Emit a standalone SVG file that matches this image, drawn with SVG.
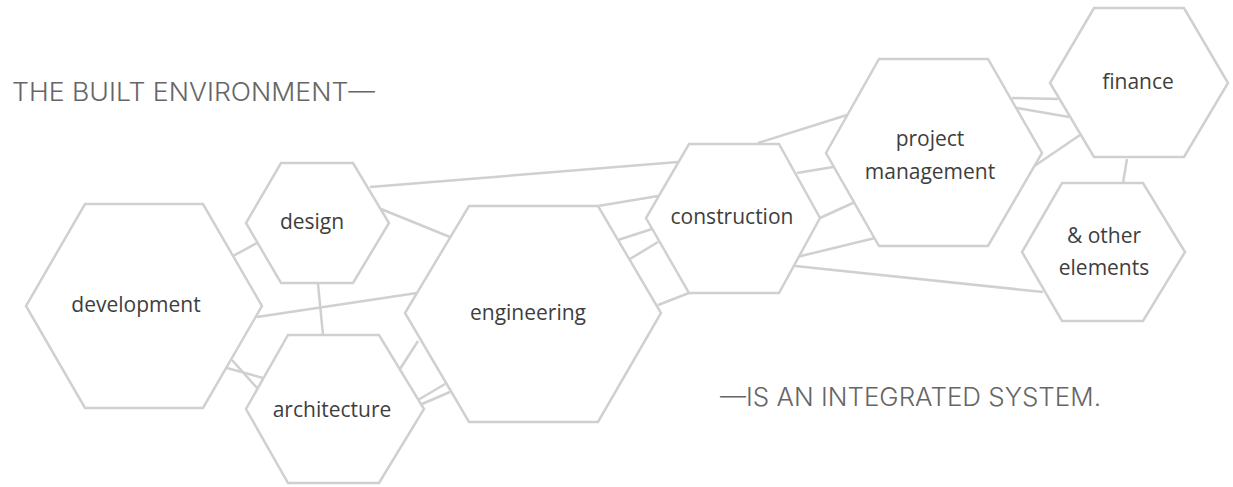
<svg xmlns="http://www.w3.org/2000/svg" width="1233" height="487" viewBox="0 0 1233 487">
<style>
.hex{fill:#fff;stroke:#d0d0d0;stroke-width:2.5;stroke-linejoin:miter}
.con line{stroke:#d0d0d0;stroke-width:2.5;stroke-linecap:butt}
.lbl{font-family:"Open Sans","Noto Sans",sans-serif;font-size:21px;fill:#3e3e3e;text-anchor:middle}
.title{font-family:"Inter","Open Sans",sans-serif;font-size:25px;fill:#666;font-weight:300}
</style>
<rect width="1233" height="487" fill="#fff"/>
<text class="title" x="12" y="101" textLength="363" lengthAdjust="spacingAndGlyphs">THE BUILT ENVIRONMENT—</text>
<text class="title" x="720" y="406" textLength="381" lengthAdjust="spacingAndGlyphs">—IS AN INTEGRATED SYSTEM.</text>
<g id="connectors" class="con">
<line x1="370" y1="187" x2="678" y2="162"/>
<line x1="381" y1="209" x2="450" y2="237"/>
<line x1="233" y1="256" x2="257" y2="243"/>
<line x1="318" y1="284" x2="323" y2="335"/>
<line x1="257" y1="317" x2="417" y2="293"/>
<line x1="232" y1="360" x2="258" y2="389"/>
<line x1="227" y1="368" x2="263" y2="378"/>
<line x1="400" y1="369" x2="418" y2="341"/>
<line x1="418" y1="400" x2="445" y2="384"/>
<line x1="422" y1="404" x2="450" y2="392"/>
<line x1="598" y1="206" x2="658" y2="196"/>
<line x1="618" y1="240" x2="652" y2="229"/>
<line x1="630" y1="259" x2="658" y2="242"/>
<line x1="658" y1="305" x2="689" y2="293"/>
<line x1="758" y1="143" x2="847" y2="115"/>
<line x1="797" y1="173" x2="833" y2="167"/>
<line x1="820" y1="218" x2="855" y2="202"/>
<line x1="797" y1="257" x2="875" y2="238"/>
<line x1="795" y1="266" x2="1043" y2="292"/>
<line x1="1012" y1="98" x2="1058" y2="99"/>
<line x1="1017" y1="108" x2="1069" y2="117"/>
<line x1="1033" y1="167" x2="1080" y2="135"/>
<line x1="1127" y1="159" x2="1123" y2="183"/>
</g>
<g id="development"><polygon class="hex" points="85,204 203,204 262,306 203,408 85,408 26,306"/><text class="lbl" x="136" y="312">development</text></g>
<g id="design"><polygon class="hex" points="281,163 353,163 389,223 353,283 281,283 246,223"/><text class="lbl" x="312" y="229">design</text></g>
<g id="architecture"><polygon class="hex" points="288,335 379,335 424,409 379,483 288,483 246,409"/><text class="lbl" x="332" y="417">architecture</text></g>
<g id="engineering"><polygon class="hex" points="469,206 598,206 661,313 598,422 469,422 405,313"/><text class="lbl" x="528" y="320">engineering</text></g>
<g id="construction"><polygon class="hex" points="689,144 779,144 820,218 779,293 689,293 646,218"/><text class="lbl" x="732" y="224">construction</text></g>
<g id="project-management"><polygon class="hex" points="879,59 988,59 1042,153 988,246 879,246 826,153"/><text class="lbl" x="930" y="146">project</text><text class="lbl" x="930" y="179">management</text></g>
<g id="finance"><polygon class="hex" points="1094,8 1184,8 1228,83 1184,157 1094,157 1050,83"/><text class="lbl" x="1138" y="89">finance</text></g>
<g id="other-elements"><polygon class="hex" points="1062,183 1143,183 1185,252 1143,321 1062,321 1022,252"/><text class="lbl" x="1104" y="243">&amp; other</text><text class="lbl" x="1104" y="275">elements</text></g>
</svg>
